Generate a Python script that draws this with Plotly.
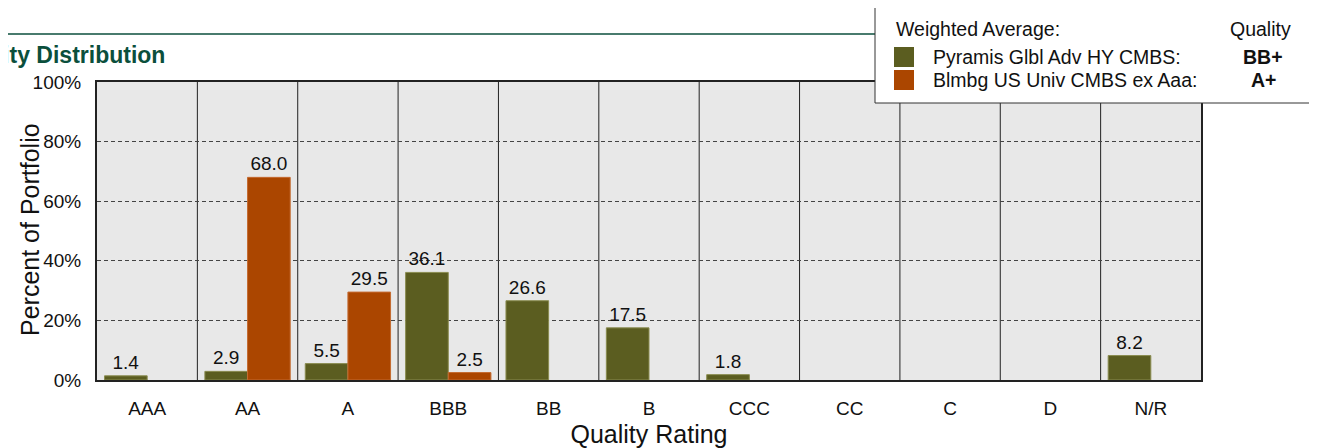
import plotly.graph_objects as go

categories = ["AAA", "AA", "A", "BBB", "BB", "B", "CCC", "CC", "C", "D", "N/R"]
fund_values = [1.4, 2.9, 5.5, 36.1, 26.6, 17.5, 1.8, 0, 0, 0, 8.2]
bench_values = [0, 68.0, 29.5, 2.5, 0, 0, 0, 0, 0, 0, 0]
fund_name = "Pyramis Glbl Adv HY CMBS:"
bench_name = "Blmbg US Univ CMBS ex Aaa:"
fund_quality = "BB+"
bench_quality = "A+"
y_ticks = [0, 20, 40, 60, 80, 100]
y_tick_labels = ["0%", "20%", "40%", "60%", "80%", "100%"]

OLIVE = "#5b5d20"
RUST = "#ab4600"
TEAL = "#0b4f3c"
FONT = "Liberation Sans, Arial, sans-serif"

# page offset of the plotly div (body margin)
OFF = 8
WIN_W, WIN_H = 1317, 448
W, H = WIN_W - OFF, WIN_H - OFF
# plot area in window pixels
PL, PR, PT, PB = 97, 1201, 82, 380
ML, MR, MT, MB = PL - OFF, WIN_W - PR, PT - OFF, WIN_H - PB
PW, PH = PR - PL, PB - PT


def px(x):
    return (x - PL) / PW


def py(y):
    return (PB - y) / PH


def lbl(vals):
    return [f"{v:.1f}" if v else "" for v in vals]


def nz(vals):
    return [v if v else None for v in vals]


fig = go.Figure()
fig.add_trace(go.Bar(x=categories, y=nz(fund_values), name=fund_name, marker_color=OLIVE,
                     marker_line=dict(color="#8a8c50", width=1),
                     text=lbl(fund_values), textposition="outside", cliponaxis=False,
                     textfont=dict(size=19, color="#111", family=FONT)))
fig.add_trace(go.Bar(x=categories, y=nz(bench_values), name=bench_name, marker_color=RUST,
                     marker_line=dict(color="#c46a30", width=1),
                     text=lbl(bench_values), textposition="outside", cliponaxis=False,
                     textfont=dict(size=19, color="#111", family=FONT)))

shapes = []
for i in range(len(categories) - 1):
    shapes.append(dict(type="line", xref="x", yref="paper", x0=i + 0.5, x1=i + 0.5, y0=0, y1=1,
                       line=dict(color="#222", width=1), layer="below"))
# header rule
shapes.append(dict(type="line", xref="paper", yref="paper", x0=px(0), x1=px(WIN_W), y0=py(34), y1=py(34),
                   line=dict(color=TEAL, width=1.5)))
# legend box
shapes.append(dict(type="rect", xref="paper", yref="paper", x0=px(875), x1=px(1312), y0=py(103), y1=py(4),
                   line=dict(color="#333", width=1), fillcolor="white"))
shapes.append(dict(type="rect", xref="paper", yref="paper", x0=px(894), x1=px(914), y0=py(67), y1=py(47),
                   line=dict(width=0), fillcolor=OLIVE))
shapes.append(dict(type="rect", xref="paper", yref="paper", x0=px(894), x1=px(914), y0=py(90), y1=py(70),
                   line=dict(width=0), fillcolor=RUST))

LF = 19.5
ann = [
    dict(text="<b>Quality Distribution</b>", x=px(167), y=py(55), xanchor="right", yanchor="middle",
         font=dict(size=23, color=TEAL, family=FONT)),
    dict(text="Percent of Portfolio", x=px(30), y=py(230), xanchor="center", yanchor="middle",
         textangle=-90, font=dict(size=25, color="#111", family=FONT)),
    dict(text="Weighted Average:", x=px(894), y=py(29), xanchor="left", yanchor="middle",
         font=dict(size=LF, color="#111", family=FONT)),
    dict(text="Quality", x=px(1293), y=py(29), xanchor="right", yanchor="middle",
         font=dict(size=LF, color="#111", family=FONT)),
    dict(text=fund_name, x=px(931), y=py(57), xanchor="left", yanchor="middle",
         font=dict(size=LF, color="#111", family=FONT)),
    dict(text=bench_name, x=px(931), y=py(80), xanchor="left", yanchor="middle",
         font=dict(size=LF, color="#111", family=FONT)),
    dict(text=f"<b>{fund_quality}</b>", x=px(1263), y=py(57), xanchor="center", yanchor="middle",
         font=dict(size=LF, color="#111", family=FONT)),
    dict(text=f"<b>{bench_quality}</b>", x=px(1263), y=py(80), xanchor="center", yanchor="middle",
         font=dict(size=LF, color="#111", family=FONT)),
]
for a in ann:
    a.update(xref="paper", yref="paper", showarrow=False)

fig.update_layout(
    width=W, height=H,
    margin=dict(l=ML, r=MR, t=MT, b=MB, autoexpand=False),
    paper_bgcolor="white", plot_bgcolor="#e8e8e8",
    barmode="group", bargap=0.15, bargroupgap=0,
    showlegend=False,
    font=dict(family=FONT, color="#111"),
    shapes=shapes, annotations=ann,
    xaxis=dict(showgrid=False, showline=True, linecolor="#222", linewidth=2, mirror=True,
               ticks="outside", ticklen=10, tickcolor="rgba(0,0,0,0)",
               tickfont=dict(size=19, family=FONT, color="#111"),
               title=dict(text="Quality Rating", font=dict(size=25, family=FONT, color="#111"), standoff=11)),
    yaxis=dict(range=[0, 100], tickvals=y_ticks, ticktext=y_tick_labels,
               showgrid=True, gridcolor="#444", griddash="4px,3px", gridwidth=1,
               showline=True, linecolor="#222", linewidth=2, mirror=True, zeroline=False,
               ticks="outside", ticklen=10, tickcolor="rgba(0,0,0,0)",
               tickfont=dict(size=19, family=FONT, color="#111")),
)

fig.write_html("out.html")
